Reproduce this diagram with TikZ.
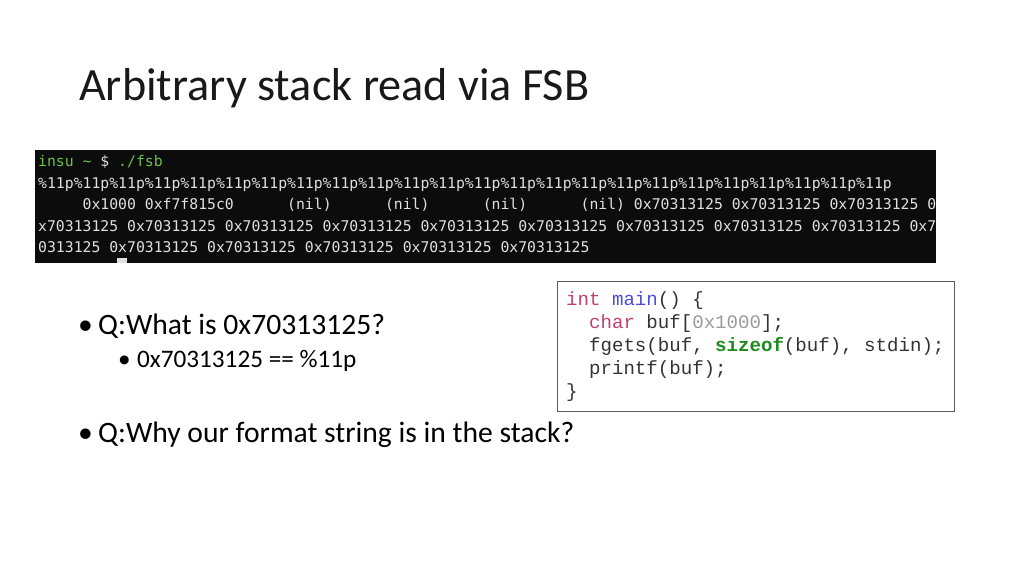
\documentclass[tikz,border=0pt]{standalone}
\usepackage{fontspec}
\setmainfont{Carlito}
\newfontfamily\termfont{DejaVu Sans Mono}
\newfontfamily\codefont{Liberation Mono}

\definecolor{termbg}{HTML}{0C0C0C}
\definecolor{termfg}{HTML}{E0E0E0}
\definecolor{termgreen}{HTML}{6CC04A}
\definecolor{codegray}{HTML}{333333}
\definecolor{kwred}{HTML}{C2406E}
\definecolor{fnblue}{HTML}{4B4BE0}
\definecolor{numgray}{HTML}{9A9A9A}
\definecolor{kwgreen}{HTML}{1F8A1F}

\tikzstyle{title} = [anchor=base west, inner sep=0pt, font=\fontsize{46.2}{56}\selectfont, text=black!90]
\tikzstyle{term} = [anchor=base west, inner sep=0pt, font=\termfont\fontsize{14.77}{18}\selectfont, text=termfg]
\tikzstyle{code} = [anchor=base west, inner sep=0pt, font=\codefont\fontsize{19.1}{23}\selectfont, text=codegray]
\tikzstyle{item} = [anchor=base west, inner sep=0pt, font=\fontsize{29.6}{35}\selectfont]
\tikzstyle{subitem} = [anchor=base west, inner sep=0pt, font=\fontsize{25.2}{30}\selectfont]

\newcommand\ffp{\%11p\%11p\%11p\%11p}
\newcommand\hexv{ 0x70313125}

\begin{document}
\begin{tikzpicture}[x=1pt, y=-1pt]

\useasboundingbox[fill=white] (0,0) rectangle (1024,576);

\node (head) [title] at (79,100) {Arbitrary stack read via FSB};

% terminal screenshot
\fill[termbg] (35,150) rectangle (936,263);
\node (prompt) [term] at (38,166.4) {\textcolor{termgreen}{insu \string~} \$ \textcolor{termgreen}{./fsb}};
\node (fmt) [term] at (38,188) {\ffp\ffp\ffp\ffp\ffp\ffp};
\node (outA) [term] at (38,209.6) {\ \ \ \ \ 0x1000 0xf7f815c0\ \ \ \ \ \ (nil)\ \ \ \ \ \ (nil)\ \ \ \ \ \ (nil)\ \ \ \ \ \ (nil)\hexv\hexv\hexv\ 0};
\node (outB) [term] at (38,231.2) {x70313125\hexv\hexv\hexv\hexv\hexv\hexv\hexv\hexv\ 0x7};
\node (outC) [term] at (38,252.8) {0313125\hexv\hexv\hexv\hexv\hexv};
\fill[termfg] (117,258) rectangle (127,263);

% source code
\draw[codegray!80, line width=0.8pt] (557,281) rectangle (954,411);
\node (lineA) [code] at (566,305) {\textcolor{kwred}{int} \textcolor{fnblue}{main}() \{};
\node (lineB) [code] at (566,328) {\ \ \textcolor{kwred}{char} buf[\textcolor{numgray}{0x1000}];};
\node (lineC) [code] at (566,351) {\ \ fgets(buf, \textcolor{kwgreen}{\textbf{sizeof}}(buf), stdin);};
\node (lineD) [code] at (566,374) {\ \ printf(buf);};
\node (lineE) [code] at (566,397) {\}};

% bullets
\node (qA) [item] at (78,334) {\makebox[20pt][l]{•}Q:What is 0x70313125?};
\node (aA) [subitem] at (118,367) {\makebox[19pt][l]{•}0x70313125 == \%11p};
\node (qB) [item] at (78,442) {\makebox[20pt][l]{•}Q:Why our format string is in the stack?};

\end{tikzpicture}
\end{document}
